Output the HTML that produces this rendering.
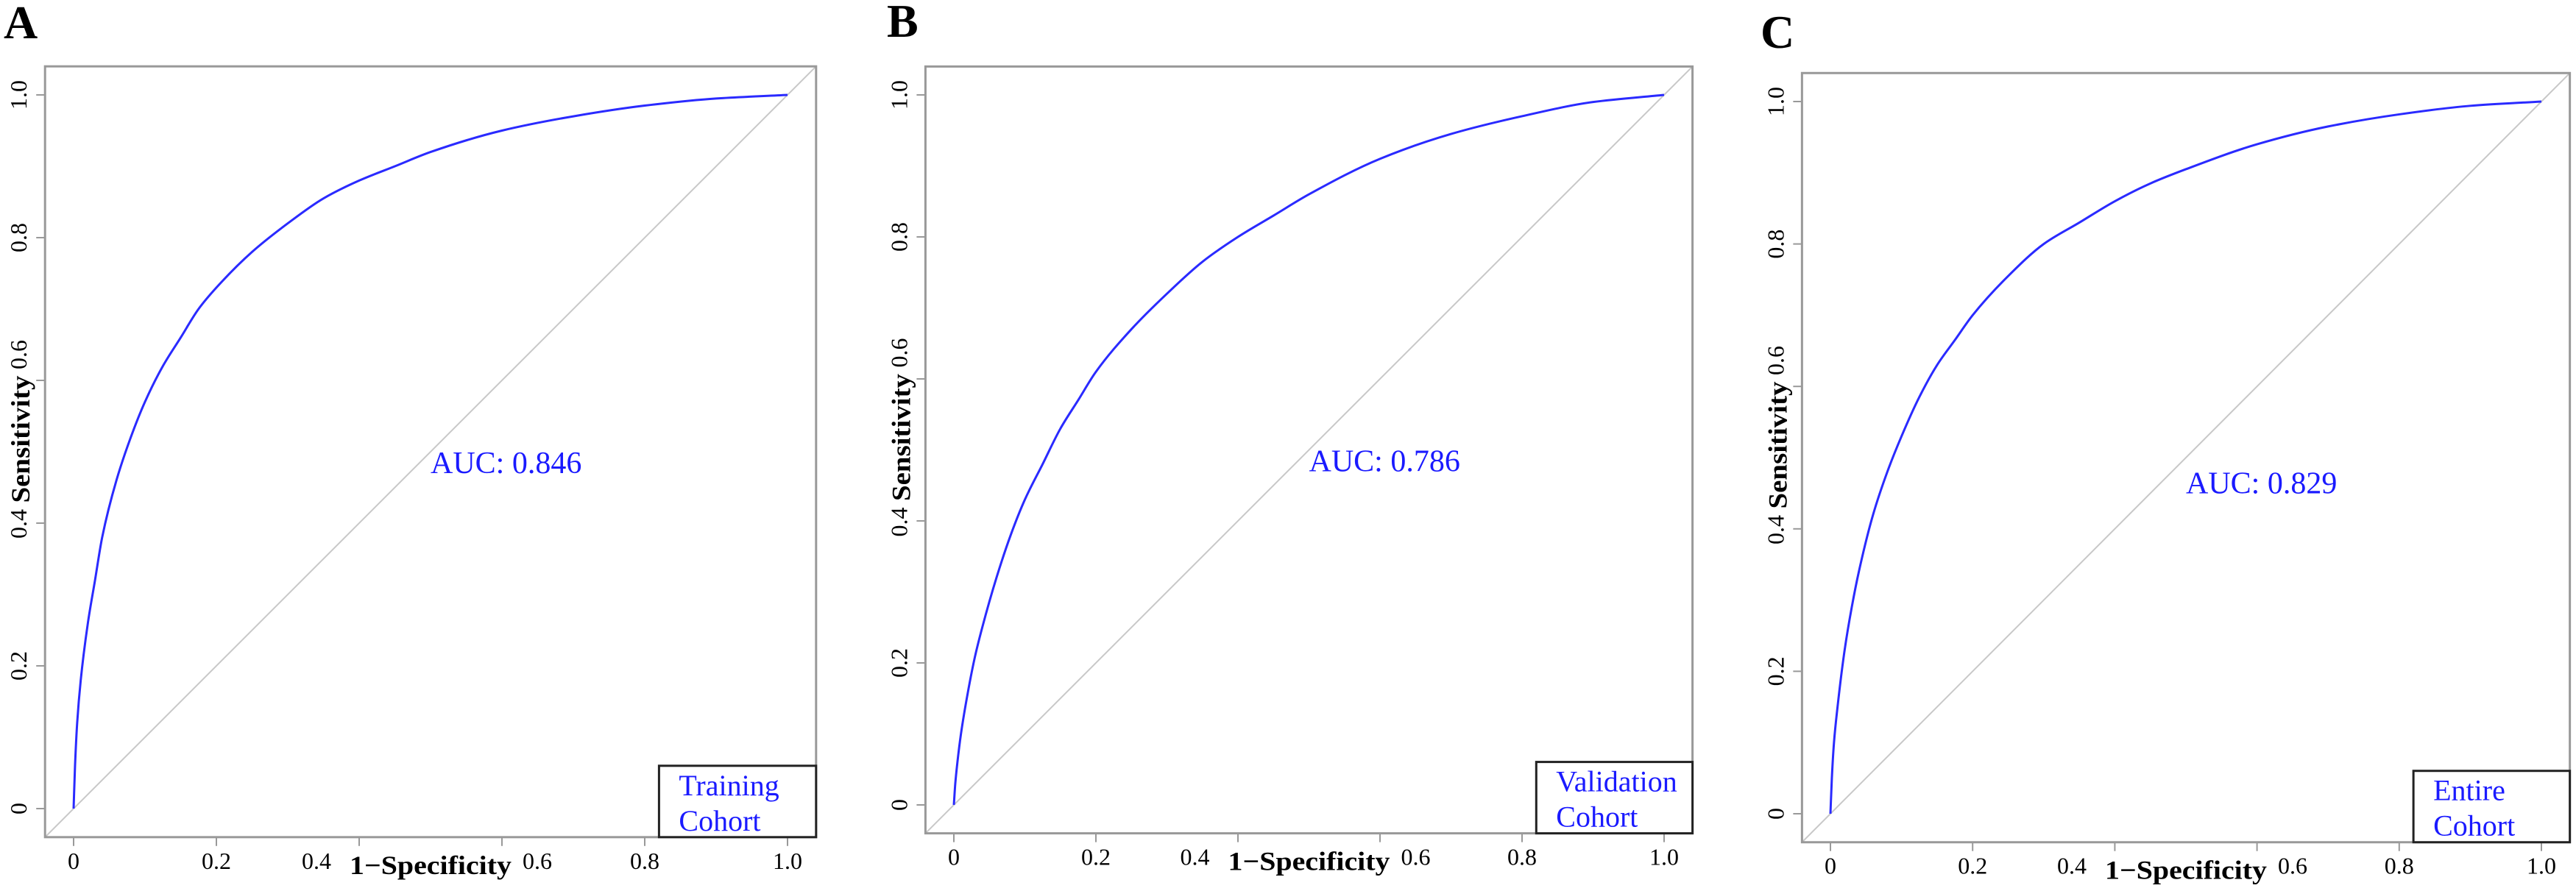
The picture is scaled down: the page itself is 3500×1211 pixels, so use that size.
<!DOCTYPE html>
<html><head><meta charset="utf-8">
<style>
html,body{margin:0;padding:0;background:#fff;}
svg{display:block;font-family:"Liberation Serif",serif;}
</style></head>
<body>
<svg id="fig" width="3500" height="1211" viewBox="0 0 3500 1211" xmlns="http://www.w3.org/2000/svg"></svg>
<script>
// ---- data ----
const tickValues = [0, 0.2, 0.4, 0.6, 0.8, 1.0];
const xTickLabels = ["0", "0.2", "0.4", "0.6", "0.8", "1.0"];
const yTickLabels = ["0", "0.2", "0.4", "0.6", "0.8", "1.0"];
const fprA = [0, 0.002, 0.005, 0.01, 0.02, 0.03, 0.04, 0.06, 0.08, 0.1, 0.125, 0.15, 0.175, 0.2, 0.25, 0.3, 0.35, 0.4, 0.45, 0.5, 0.6, 0.7, 0.8, 0.9, 1];
const tprA = [0, 0.06, 0.12, 0.18, 0.26, 0.32, 0.38, 0.46, 0.52, 0.57, 0.62, 0.66, 0.70, 0.73, 0.78, 0.82, 0.855, 0.88, 0.90, 0.92, 0.95, 0.97, 0.985, 0.995, 1];
const fprB = [0, 0.002, 0.005, 0.01, 0.02, 0.03, 0.04, 0.06, 0.08, 0.1, 0.125, 0.15, 0.175, 0.2, 0.25, 0.3, 0.35, 0.4, 0.45, 0.5, 0.6, 0.7, 0.8, 0.9, 1];
const tprB = [0, 0.03, 0.06, 0.1, 0.16, 0.21, 0.25, 0.32, 0.38, 0.43, 0.48, 0.53, 0.57, 0.61, 0.67, 0.72, 0.765, 0.80, 0.83, 0.86, 0.91, 0.945, 0.97, 0.99, 1];
const fprC = [0, 0.002, 0.005, 0.01, 0.02, 0.03, 0.04, 0.06, 0.08, 0.1, 0.125, 0.15, 0.175, 0.2, 0.25, 0.3, 0.35, 0.4, 0.45, 0.5, 0.6, 0.7, 0.8, 0.9, 1];
const tprC = [0, 0.05, 0.1, 0.15, 0.23, 0.29, 0.34, 0.42, 0.48, 0.53, 0.585, 0.63, 0.665, 0.70, 0.755, 0.80, 0.83, 0.86, 0.885, 0.905, 0.94, 0.965, 0.982, 0.994, 1];
const aucValues = ["0.846", "0.786", "0.829"];
const panelLetters = ["A", "B", "C"];
const legendLine1 = ["Training", "Validation", "Entire"];
const legendLine2 = ["Cohort", "Cohort", "Cohort"];

const panels = [
  {x0:100, x1:1070, y0:1099, y1:129, lx:5, ly:52, fpr:fprA, tpr:tprA, aucY:0.47},
  {x0:1296, x1:2261, y0:1094, y1:129, lx:1205, ly:50, fpr:fprB, tpr:tprB, aucY:0.47},
  {x0:2487, x1:3453, y0:1106, y1:138, lx:2392, ly:65, fpr:fprC, tpr:tprC, aucY:0.45}
];
const NS = "http://www.w3.org/2000/svg";
const svg = document.getElementById("fig");
function mk(tag, attrs, parent, text){
  const e = document.createElementNS(NS, tag);
  for (const k in attrs) e.setAttribute(k, attrs[k]);
  if (text !== undefined) e.textContent = text;
  (parent||svg).appendChild(e);
  return e;
}
function monotonePath(xs, ys, sx, sy){
  const n = xs.length, dl = [], m = new Array(n);
  for (let k = 0; k < n-1; k++) dl.push((ys[k+1]-ys[k])/(xs[k+1]-xs[k]));
  m[0] = dl[0]; m[n-1] = dl[n-2];
  for (let k = 1; k < n-1; k++) {
    if (dl[k-1]*dl[k] <= 0) m[k] = 0;
    else { const w1 = 2*(xs[k+1]-xs[k]) + (xs[k]-xs[k-1]), w2 = (xs[k+1]-xs[k]) + 2*(xs[k]-xs[k-1]);
      m[k] = (w1+w2)/(w1/dl[k-1] + w2/dl[k]); }
  }
  let d = `M${sx(xs[0])},${sy(ys[0])}`;
  for (let k = 0; k < n-1; k++) {
    const h = xs[k+1]-xs[k];
    d += ` C${sx(xs[k]+h/3)},${sy(ys[k]+m[k]*h/3)} ${sx(xs[k+1]-h/3)},${sy(ys[k+1]-m[k+1]*h/3)} ${sx(xs[k+1])},${sy(ys[k+1])}`;
  }
  return d;
}
panels.forEach((p, i) => {
  const sx = v => p.x0 + v*(p.x1-p.x0);
  const sy = v => p.y0 - v*(p.y0-p.y1);
  const g = mk("g", {});
  
  
  const fl = sx(-0.04), fr = sx(1.04), ft = sy(1.04), fb = sy(-0.04);
  const L = mk("text", {x:p.lx, y:p.ly, "font-size":64, "font-weight":"bold", fill:"#000"}, g, panelLetters[i]);
  
  
  const d = mk("line", {x1:fl, y1:fb, x2:fr, y2:ft, stroke:"#c8c8c8", "stroke-width":2}, g);
  
  
  const fr_ = mk("rect", {x:fl, y:ft, width:fr-fl, height:fb-ft, fill:"none", stroke:"#999", "stroke-width":3}, g);
  
  
  tickValues.forEach((v, k) => {
    const tx = mk("line", {x1:sx(v), y1:fb, x2:sx(v), y2:fb+12, stroke:"#999", "stroke-width":2}, g);
    
    
    const ty = mk("line", {x1:fl, y1:sy(v), x2:fl-12, y2:sy(v), stroke:"#999", "stroke-width":2}, g);
    
    
  });
  const xmid = sx(0.5);
  const xt = mk("text", {x:xmid, y:fb+50, "font-size":36, "font-weight":"bold", "text-anchor":"middle", textLength:220, lengthAdjust:"spacingAndGlyphs", fill:"#000"}, g, "1\u2212Specificity");
  
  
  tickValues.forEach((v, k) => {
    let x = sx(v), anchor = "middle";
    if (Math.abs(v-0.4) < 1e-9) { x = xmid - 135; anchor = "end"; }
    if (Math.abs(v-0.6) < 1e-9) { x = xmid + 125; anchor = "start"; }
    const t = mk("text", {x:x, y:fb+43, "font-size":32, "text-anchor":anchor, fill:"#000"}, g, xTickLabels[k]);
    
    
  });
  const lx = fl - 25;
  const ymid = sy(0.5) - 17;
  const yt = mk("text", {x:0, y:0, "font-size":36, "font-weight":"bold", "text-anchor":"middle", textLength:173, lengthAdjust:"spacingAndGlyphs", fill:"#000", transform:`translate(${lx+4},${ymid}) rotate(-90)`}, g, "Sensitivity");
  
  
  tickValues.forEach((v, k) => {
    let y = sy(v), anchor = "middle";
    if (Math.abs(v-0.6) < 1e-9) { y = ymid - 95; anchor = "start"; }
    if (Math.abs(v-0.4) < 1e-9) { y = ymid + 95; anchor = "end"; }
    const t = mk("text", {x:0, y:0, "font-size":32, "text-anchor":anchor, fill:"#000", transform:`translate(${lx},${y}) rotate(-90)`}, g, yTickLabels[k]);
    
    
  });
  const c = mk("path", {d:monotonePath(p.fpr, p.tpr, sx, sy), fill:"none", stroke:"#2a2aff", "stroke-width":3}, g);
  
  
  const a = mk("text", {x:sx(0.5), y:sy(p.aucY), "font-size":42, fill:"#1a1aff"}, g, "AUC: " + aucValues[i]);
  
  
  const bx = sx(0.82), btop = fb - 97;
  const lg = mk("g", {}, g);
  
  
  mk("rect", {x:bx, y:btop, width:fr-bx, height:fb-btop, fill:"#fff", stroke:"#222", "stroke-width":3}, lg);
  const l1 = mk("text", {x:bx+27, y:btop+40, "font-size":40, fill:"#1a1aff"}, lg, legendLine1[i]);
  
  
  const l2 = mk("text", {x:bx+27, y:btop+88, "font-size":40, fill:"#1a1aff"}, lg, legendLine2[i]);
  
  
});
</script>
</body></html>
